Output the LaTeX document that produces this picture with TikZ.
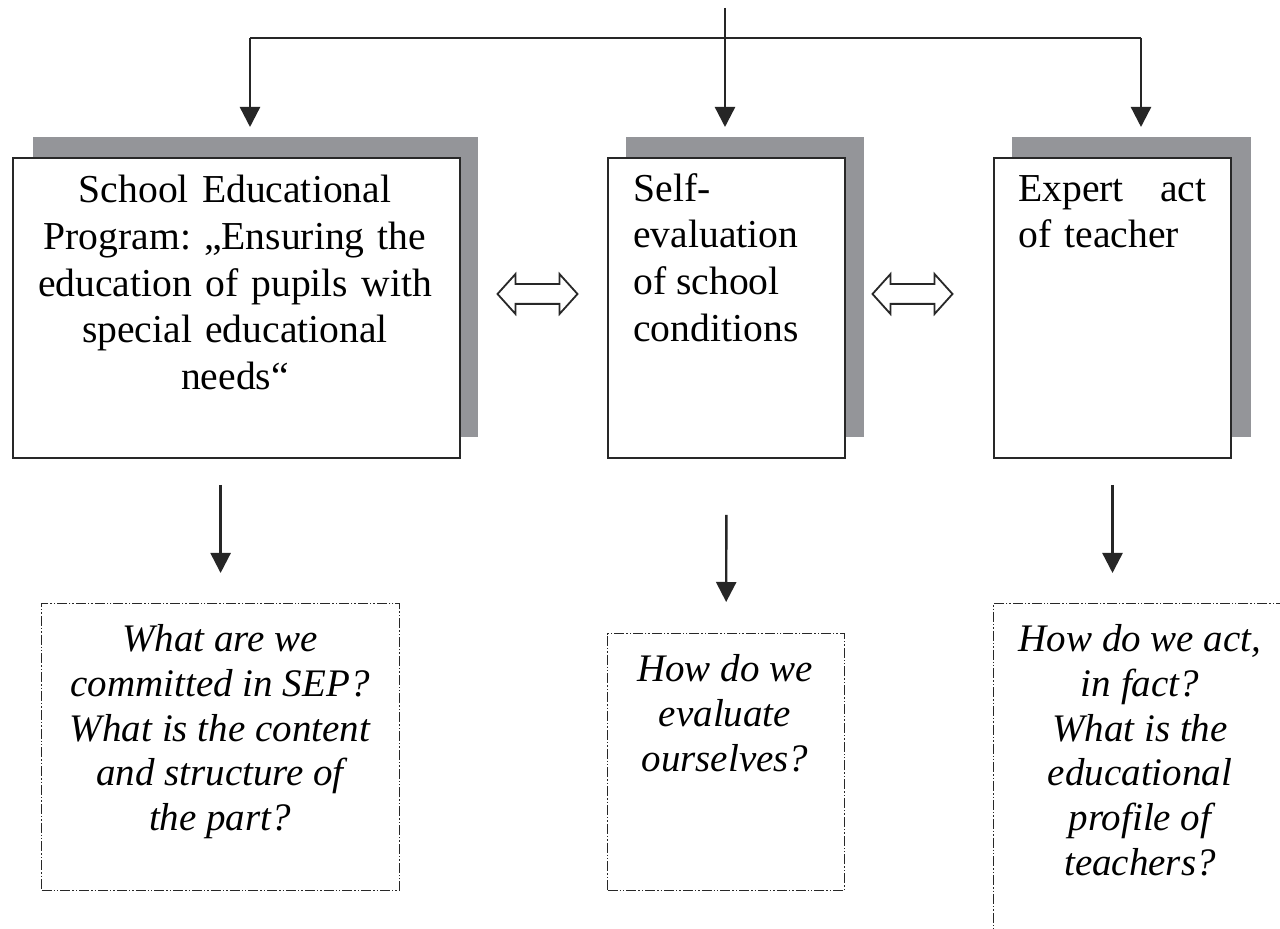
\documentclass[tikz,border=0pt]{standalone}
\usepackage{fontspec}
\setmainfont{Liberation Serif}
\usetikzlibrary{arrows.meta,shapes.arrows}
\definecolor{shadowgray}{RGB}{148,149,153}
\definecolor{linegray}{RGB}{40,40,40}
\frenchspacing
\begin{document}
\begin{tikzpicture}[x=0.5pt,y=-0.5pt,
  shadowbox/.style={fill=shadowgray, draw=none, inner sep=0pt, anchor=north west, minimum height=150pt},
  mainbox/.style={fill=white, draw=linegray, line width=1pt, inner sep=0pt, anchor=north west, minimum height=150pt},
  qbox/.style={draw=linegray, line width=0.6pt, dash pattern=on 5pt off 1pt on 0.7pt off 1pt on 0.7pt off 1pt, inner sep=0pt, anchor=north west},
  maintext/.style={inner sep=0pt, font=\fontsize{19.8pt}{23.3pt}\selectfont},
  qtext/.style={inner sep=0pt, font=\fontsize{19.5pt}{22.4pt}\selectfont\itshape, align=center, anchor=north},
  conn/.style={line width=1.2pt, draw=black!85},
  arr/.style={conn, -{Triangle[length=10pt,width=10pt]}},
  blockarrow/.style={double arrow, draw=linegray, fill=white, line width=0.9pt, inner xsep=0pt, inner ysep=4.5pt, minimum height=40pt, double arrow head extend=5pt, double arrow tip angle=96}
]
\clip (0,0) rectangle (1280,929);
\fill[white] (0,0) rectangle (1280,929);

% shadows
\node[shadowbox, minimum width=222.5pt] (s1) at (33,137) {};
\node[shadowbox, minimum width=119pt] (s2) at (626,137) {};
\node[shadowbox, minimum width=119.5pt] (s3) at (1012,137) {};

% main boxes
\node[mainbox, minimum width=223.5pt] (b1) at (12,157) {};
\node[mainbox, minimum width=118.5pt] (b2) at (607,157) {};
\node[mainbox, minimum width=118.5pt] (b3) at (993,157) {};

% main texts
\node[maintext, text width=210pt, align=center, anchor=north] (t1) at (235,175)
  {School Educational\\ Program: „Ensuring the\\ education of pupils with\\ special educational\\ needs“};
\node[maintext, align=left, anchor=north west] (t2) at (633,173)
  {Self-\\evaluation\\of school\\conditions};
\node[maintext, text width=94pt, align=left, anchor=north west] (t3) at (1018,175)
  {Expert\hfill act\\of teacher};

% question boxes
\node[qbox, minimum width=179pt, minimum height=143.5pt] (q1) at (41,603) {};
\node[qbox, minimum width=118.5pt, minimum height=128.5pt] (q2) at (607,633) {};
\node[qbox, minimum width=147pt, minimum height=200pt] (q3) at (993,603) {};

\node[qtext] (qt1) at (220,624)
  {What are we\\committed in SEP?\\What is the content\\and structure of\\the part?};
\node[qtext] (qt2) at (725,654)
  {How do we\\evaluate\\ourselves?};
\node[qtext] (qt3) at (1140,624)
  {How do we act,\\in fact?\\What is the\\educational\\profile of\\teachers?};

% top distribution
\coordinate (top) at (725,8);
\coordinate (jc) at (725,38);
\coordinate (jl) at (250,38);
\coordinate (jr) at (1141,38);
\draw[conn] (top) -- (jc);
\draw[conn] (jl) -- (jr);
\draw[arr, shorten >=5pt] (jl) -- (jl |- s1.north);
\draw[arr, shorten >=5pt] (jc) -- (jc |- s2.north);
\draw[arr, shorten >=5pt] (jr) -- (jr |- s3.north);

% down arrows
\draw[arr, shorten <=13pt, shorten >=15pt] (b1.south -| q1.north) -- (q1.north);
\draw[arr, shorten <=28pt, shorten >=15.5pt] (b2.south) -- (q2.north);
\draw[arr, shorten <=13pt, shorten >=15pt] (b3.south) -- (b3.south |- q3.north);

% double block arrows
\node[blockarrow] (da1) at (537.5,294) {};
\node[blockarrow] (da2) at (912.5,294) {};
\end{tikzpicture}
\end{document}
